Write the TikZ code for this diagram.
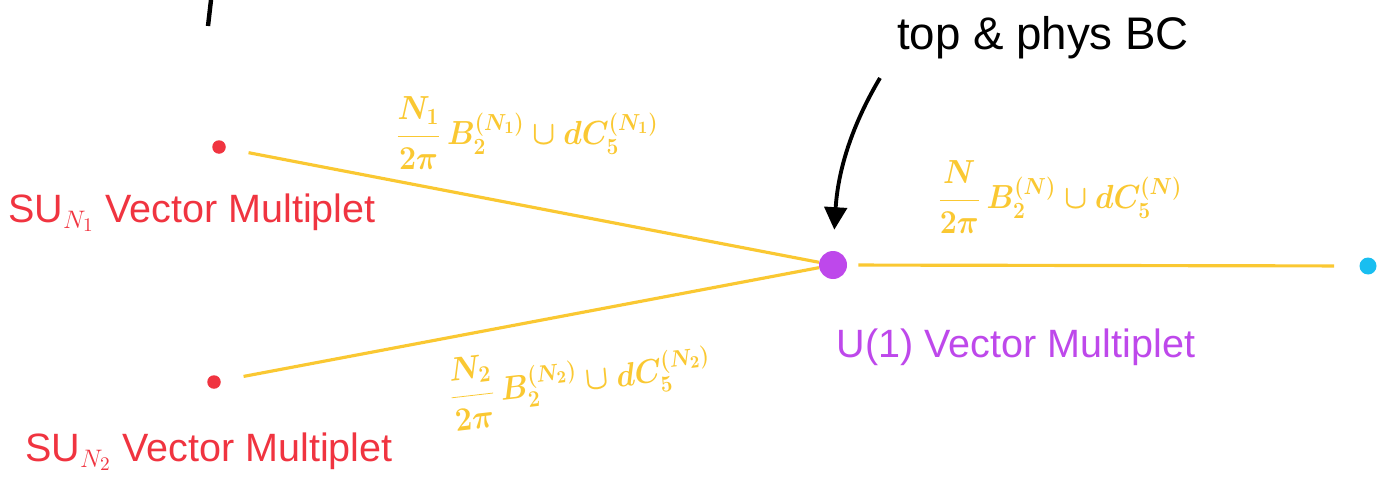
\documentclass[tikz,border=0pt]{standalone}
\usepackage{fontspec}
\setmainfont{Liberation Sans}
\usetikzlibrary{arrows.meta}
\definecolor{cred}{RGB}{240,52,64}
\definecolor{cyel}{RGB}{250,200,50}
\definecolor{cpur}{RGB}{190,72,235}
\definecolor{ccya}{RGB}{25,190,240}
\tikzset{
  dot/.style={circle,fill=#1,draw=none,inner sep=0pt},
  link/.style={cyel,line width=1.8pt},
  lab/.style={font=\fontsize{22.5}{27}\selectfont,inner sep=0pt},
  mlab/.style={cyel,font=\fontsize{18}{22}\selectfont\boldmath,inner sep=0pt,yscale=1.1},
}
\begin{document}
\begin{tikzpicture}[x=0.02cm,y=-0.02cm]
\useasboundingbox (0,0) rectangle (1381,497);
% dots
\node[dot=cred,minimum size=0.27cm] (r1) at (219,147) {};
\node[dot=cred,minimum size=0.27cm] (r2) at (214,382) {};
\node[dot=cpur,minimum size=0.56cm] (pu) at (833,265) {};
\node[dot=ccya,minimum size=0.34cm] (cy) at (1368,266) {};
% connectors
\draw[link,shorten <=0.46cm] (r1) -- (pu);
\draw[link,shorten <=0.46cm] (r2) -- (pu);
\draw[link,shorten <=0.22cm,shorten >=0.5cm] (pu) -- (cy);
% labels
\node[lab,cred] (l1) at (192,213) {SU$_{N_1}$ Vector Multiplet};
\node[lab,cred] (l2) at (209,452) {SU$_{N_2}$ Vector Multiplet};
\node[lab,cpur] (l3) at (1016,347) {U(1) Vector Multiplet};
\node[mlab] (m1) at (527,133) {$\displaystyle\frac{N_1}{2\pi}\,B_2^{(N_1)}\cup dC_5^{(N_1)}$};
\node[mlab] (m2) at (1060,197) {$\displaystyle\frac{N}{2\pi}\,B_2^{(N)}\cup dC_5^{(N)}$};
\node[mlab,rotate=6] (m3) at (580,380) {$\displaystyle\frac{N_2}{2\pi}\,B_2^{(N_2)}\cup dC_5^{(N_2)}$};
% annotation
\node[lab,black,font=\fontsize{26}{30}\selectfont] (tp) at (1043,38) {top \& phys BC};
\coordinate (as) at (880,78);
\draw[black,line width=2.2pt,shorten >=0.42cm,-{Triangle[length=0.45cm,width=0.45cm]}] (as) .. controls (852,125) and (838,170) .. (pu.north);
% top-left stroke
\coordinate (s1) at (211,0);
\coordinate (s2) at (208,26);
\draw[black,line width=2.5pt] (s1) -- (s2);
\end{tikzpicture}
\end{document}
